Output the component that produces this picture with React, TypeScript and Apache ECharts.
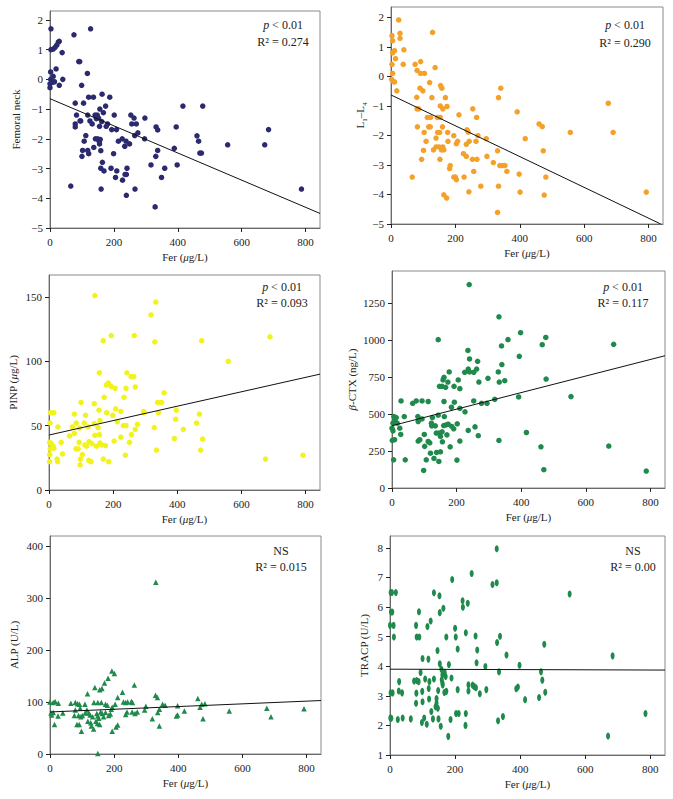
import React, { useEffect, useRef } from "react";
import * as echarts from "echarts";

const FONT = "'Liberation Serif', 'Times New Roman', serif";

// ---- tick labels ----
const ferTicks = [0, 200, 400, 600, 800];
const femoralTicks = [-5, -4, -3, -2, -1, 0, 1, 2];
const lumbarTicks = [-5, -4, -3, -2, -1, 0, 1, 2];
const pinpTicks = [0, 50, 100, 150];
const ctxTicks = [0, 250, 500, 750, 1000, 1250];
const alpTicks = [0, 100, 200, 300, 400];
const tracpTicks = [1, 2, 3, 4, 5, 6, 7, 8];

// ---- data: [Fer, value] ----
const femoralNeck = [
  [3,1.7],[75,1.5],[127,1.7],[3,1.0],[10,1.02],[16,1.08],[21,1.15],[26,1.25],[29,1.28],[38,0.9],[90,0.6],[93,0.6],[2,0.25],[19,0.35],[117,0.2],[10,0.1],[2,0.0],[0,-0.15],[0,-0.28],[8,-0.1],[14,-0.08],[29,-0.2],[40,0.0],[99,-0.2],[163,-0.5],[187,-0.6],[121,-0.6],[136,-0.6],[79,-0.8],[105,-0.8],[174,-0.9],[416,-0.9],[478,-0.9],[83,-1.2],[118,-1.2],[141,-1.2],[148,-1.2],[167,-1.12],[156,-1.0],[201,-1.2],[253,-1.2],[263,-1.3],[297,-1.3],[125,-1.4],[94,-1.4],[96,-1.4],[145,-1.32],[152,-1.3],[132,-1.5],[79,-1.5],[79,-1.6],[162,-1.42],[155,-1.58],[180,-1.5],[176,-1.58],[256,-1.5],[270,-1.5],[332,-1.6],[337,-1.7],[395,-1.6],[193,-1.69],[208,-1.69],[275,-1.8],[265,-1.89],[460,-1.9],[112,-1.89],[142,-2.0],[149,-2.0],[154,-2.08],[157,-2.02],[226,-2.0],[238,-2.08],[296,-2.0],[155,-2.17],[159,-2.4],[214,-2.08],[234,-2.25],[249,-2.17],[465,-2.08],[556,-2.2],[672,-2.2],[684,-1.69],[137,-2.29],[107,-2.08],[102,-2.39],[118,-2.39],[121,-2.5],[100,-2.59],[331,-2.59],[337,-2.39],[389,-2.32],[199,-2.5],[469,-2.48],[474,-2.48],[164,-2.79],[316,-2.88],[398,-2.88],[159,-2.99],[169,-3.08],[191,-2.99],[209,-3.08],[241,-2.99],[359,-2.99],[205,-3.3],[235,-3.2],[239,-3.2],[227,-3.39],[349,-3.3],[65,-3.59],[160,-3.69],[266,-3.69],[787,-3.69],[239,-3.9],[329,-4.29]
];

const lumbar = [
  [24,1.91],[129,1.49],[3,1.38],[5,1.21],[28,1.46],[28,1.29],[40,0.9],[5,0.8],[11,0.87],[14,0.6],[3,0.41],[38,0.41],[75,0.41],[92,0.5],[81,0.2],[92,0.1],[104,0.1],[137,0.3],[5,0.1],[2,-0.1],[8,-0.18],[11,-0.19],[18,-0.49],[120,-0.21],[90,-0.4],[99,-0.49],[154,-0.31],[158,-0.4],[341,-0.4],[334,-0.72],[80,-0.71],[127,-0.72],[169,-0.72],[81,-1.1],[86,-1.1],[153,-1.0],[161,-1.1],[174,-1.02],[254,-1.1],[113,-1.39],[123,-1.39],[144,-1.39],[153,-1.39],[211,-1.3],[266,-1.39],[392,-1.2],[675,-0.91],[82,-1.71],[117,-1.71],[122,-1.71],[160,-1.71],[460,-1.61],[470,-1.7],[103,-1.9],[145,-1.9],[151,-1.9],[176,-1.9],[236,-1.81],[240,-1.89],[270,-2.01],[296,-2.11],[417,-2.11],[557,-1.9],[690,-1.9],[195,-2.01],[109,-2.2],[140,-2.09],[177,-2.2],[207,-2.2],[203,-2.28],[234,-2.3],[243,-2.2],[264,-2.2],[132,-2.49],[140,-2.39],[149,-2.39],[161,-2.39],[157,-2.49],[164,-2.49],[101,-2.51],[225,-2.62],[234,-2.71],[331,-2.52],[473,-2.52],[95,-2.81],[152,-2.81],[253,-2.81],[267,-2.81],[298,-2.71],[318,-2.92],[338,-3.02],[347,-3.02],[354,-3.02],[184,-3.02],[182,-3.12],[360,-3.22],[257,-3.22],[398,-3.31],[195,-3.41],[200,-3.41],[203,-3.5],[66,-3.41],[227,-3.41],[481,-3.41],[279,-3.72],[334,-3.72],[242,-3.91],[401,-3.92],[793,-3.92],[476,-4.02],[164,-4.01],[173,-4.12],[331,-4.61]
];

const pinp = [
  [143,151],[333,146],[318,136],[169,116],[194,120],[266,120],[330,115],[476,116],[559,100],[689,119],[157,91],[243,91],[256,88],[264,88],[185,83],[179,81.5],[194,80.5],[206,79],[172,72],[234,72],[240,79],[269,80],[359,75.5],[339,68],[351,68],[100,68],[141,67],[156,62],[180,60],[208,63],[224,61],[295,61],[296,60],[341,60],[397,62],[5,60],[15,60],[79,59],[114,58],[199,58],[3,52],[28,49],[85,52],[110,52],[95,48],[73,49],[79,44],[122,49],[141,51.5],[159,54],[153,48.5],[213,53],[232,50],[240,50],[276,51],[269,47],[328,48.5],[395,55],[419,47],[460,52],[469,59],[143,42.5],[157,43],[64,42],[257,43],[224,41],[203,38],[251,37],[391,40],[479,39.5],[2,37],[7,36],[13,34],[15,32.5],[4,32],[38,37],[94,37],[125,37.5],[134,36],[112,35],[148,34],[159,36.5],[164,35],[176,34.5],[84,32],[91,32],[117,34],[42,28],[2,27.5],[104,27.5],[238,27],[335,31],[473,31],[25,24],[27,22],[2,22],[98,24],[124,23],[131,22],[169,24],[186,22],[97,19.5],[675,24],[792,27]
];

const betaCtx = [
  [239,1378],[331,1160],[143,1005],[359,1005],[398,1052],[476,1020],[465,971],[686,973],[235,932],[394,892],[240,874],[265,858],[339,962],[236,806],[240,786],[225,784],[253,784],[262,806],[329,786],[340,836],[177,786],[161,750],[158,732],[205,732],[269,718],[297,743],[332,718],[349,727],[477,738],[147,689],[155,689],[166,682],[173,718],[192,689],[210,673],[64,574],[75,590],[28,590],[93,590],[112,586],[161,586],[193,581],[253,590],[277,574],[294,574],[318,601],[392,617],[554,619],[184,547],[210,540],[226,516],[143,493],[162,484],[125,477],[6,484],[13,477],[16,439],[9,462],[3,439],[0,405],[38,484],[80,484],[81,450],[93,468],[122,439],[123,421],[168,428],[174,432],[202,435],[185,417],[191,401],[160,423],[257,414],[24,405],[3,387],[8,327],[1,322],[27,363],[134,421],[137,372],[145,372],[150,349],[155,381],[170,360],[100,363],[81,318],[86,327],[112,315],[117,306],[101,282],[156,313],[180,279],[210,318],[236,390],[267,354],[331,322],[416,376],[461,279],[671,284],[119,236],[138,241],[150,245],[130,200],[145,180],[106,191],[201,189],[5,191],[41,191],[98,119],[470,124],[787,115]
];

const alp = [
  [330,331],[193,160],[201,155],[181,146],[170,137],[140,128],[263,133],[155,124],[162,126],[226,119],[117,116],[211,109],[329,113],[335,109],[461,107],[0,100],[10,99],[16,101],[26,98],[65,98],[79,99],[86,97],[92,96],[109,96],[137,99],[149,99],[160,99],[173,96],[179,94],[203,96],[229,100],[236,99],[242,100],[254,101],[257,99],[299,92],[351,96],[359,94],[398,93],[473,96],[483,97],[3,79],[5,75],[10,80],[25,73],[40,79],[14,57],[79,85],[94,88],[76,74],[89,74],[96,72],[101,74],[84,57],[91,57],[98,44],[110,79],[115,85],[121,79],[125,75],[133,72],[118,63],[127,60],[129,54],[136,48],[146,78],[149,73],[152,69],[158,81],[163,78],[143,63],[148,59],[155,57],[167,72],[173,80],[183,74],[188,77],[191,86],[194,90],[149,1],[194,44],[206,52],[211,56],[236,76],[240,81],[256,81],[265,78],[272,81],[295,85],[319,68],[336,80],[341,86],[341,54],[394,73],[398,75],[419,83],[468,90],[477,68],[559,83],[676,88],[689,72],[792,87]
];

const tracp = [
  [328,7.97],[251,7.13],[191,6.93],[315,6.76],[328,6.82],[552,6.44],[2,6.49],[6,6.49],[18,6.49],[135,6.48],[152,6.38],[223,6.21],[239,6.13],[224,5.99],[164,5.96],[153,5.81],[3,5.83],[7,5.83],[89,5.84],[125,5.53],[0,5.38],[11,5.38],[80,5.38],[115,5.34],[200,5.28],[12,4.99],[82,4.99],[90,4.99],[173,4.99],[202,4.99],[263,5.02],[233,5.13],[338,5.01],[329,4.8],[208,4.58],[268,4.55],[146,4.53],[474,4.74],[358,4.38],[684,4.35],[100,4.26],[118,4.24],[153,4.08],[158,3.9],[181,4.06],[266,4.12],[293,3.99],[398,4.03],[94,3.79],[168,3.79],[335,3.81],[464,3.81],[108,3.57],[135,3.57],[161,3.71],[159,3.54],[161,3.43],[162,3.37],[171,3.65],[189,3.6],[74,3.5],[82,3.52],[88,3.48],[28,3.48],[121,3.48],[468,3.53],[241,3.37],[254,3.36],[259,3.31],[264,3.27],[148,3.18],[173,3.15],[167,3.11],[208,3.21],[241,3.16],[296,3.21],[388,3.24],[393,3.3],[477,3.12],[2,3.1],[8,3.1],[27,3.16],[37,3.1],[81,3.09],[99,3.15],[119,3.25],[100,2.8],[80,2.75],[120,2.89],[143,2.91],[143,2.76],[140,2.63],[147,2.58],[127,2.47],[276,3.07],[415,2.87],[458,2.94],[1,2.25],[4,2.24],[24,2.2],[39,2.25],[64,2.22],[98,2.1],[105,2.25],[113,2.04],[132,2.22],[149,2.22],[156,1.97],[186,2.2],[203,2.4],[211,2.4],[233,2.4],[232,2.0],[332,2.16],[347,2.3],[179,1.63],[670,1.64],[785,2.4]
];

// regression line endpoints [Fer, value]
const femoralFit = [[0, -0.65], [845, -4.51]];
const lumbarFit = [[0, -0.63], [838, -5]];
const pinpFit = [[0, 42.7], [845, 90]];
const ctxFit = [[0, 422], [845, 896]];
const alpFit = [[0, 81], [845, 103]];
const tracpFit = [[0, 3.9], [845, 3.87]];

// statistics text
const statsP = ["p < 0.01", "p < 0.01", "p < 0.01", "p < 0.01", "NS", "NS"];
const statsR2 = ["0.274", "0.290", "0.093", "0.117", "0.015", "0.00"];

const X_MAX = 845;

const panels = [
  { grid: { left: 50, top: 11, width: 270, height: 217 }, data: femoralNeck, fit: femoralFit, ticks: femoralTicks, min: -5, max: 2.3, color: "#2b2a6e", symbol: "circle", size: 5.5, yName: "Femoral neck", yGap: 29, pos: [283, 25, 42] },
  { grid: { left: 391, top: 7, width: 272, height: 217 }, data: lumbar, fit: lumbarFit, ticks: lumbarTicks, min: -5, max: 2.35, color: "#f4a12c", symbol: "circle", size: 5.5, yName: "{n|L}{s|1}{n|–L}{s|4}", yGap: 26, pos: [625, 25, 43] },
  { grid: { left: 49, top: 275, width: 271, height: 215 }, data: pinp, fit: pinpFit, ticks: pinpTicks, min: 0, max: 167, color: "#f2f21e", symbol: "circle", size: 5.5, yName: "PINP ({i|μ}g/L)", yGap: 31, pos: [282, 287, 303] },
  { grid: { left: 392, top: 271, width: 273, height: 217 }, data: betaCtx, fit: ctxFit, ticks: ctxTicks, min: 0, max: 1470, color: "#1f8a4b", symbol: "circle", size: 5.5, yName: "{i|β}-CTX (ng/L)", yGap: 35, pos: [623, 287, 303] },
  { grid: { left: 50, top: 536, width: 271, height: 218 }, data: alp, fit: alpFit, ticks: alpTicks, min: 0, max: 420, color: "#1f8a4b", symbol: "triangle", size: 5.5, yName: "ALP (U/L)", yGap: 31, pos: [281, 551, 567] },
  { grid: { left: 390, top: 536, width: 275, height: 219 }, data: tracp, fit: tracpFit, ticks: tracpTicks, min: 1, max: 8.4, color: "#1f8a4b", symbol: "circle", size: [4, 7], yName: "TRACP (U/L)", yGap: 21, pos: [633, 551, 567] },
];

const rich = {
  n: { fontFamily: FONT, fontSize: 11, color: "#222", lineHeight: 11, verticalAlign: "top" },
  s: { fontFamily: FONT, fontSize: 7, color: "#222", lineHeight: 7, padding: [7, 0, 0, 0], verticalAlign: "top" },
  i: { fontFamily: FONT, fontSize: 11, color: "#222", fontStyle: "italic" },
};

export default function App() {
  const ref = useRef<HTMLDivElement>(null);
  useEffect(() => {
    if (!ref.current) return;
    const chart = echarts.init(ref.current, undefined, { renderer: "svg" });
    const grids: any[] = [];
    const xAxes: any[] = [];
    const yAxes: any[] = [];
    const series: any[] = [];
    const graphics: any[] = [];
    panels.forEach((p, k) => {
      grids.push({ ...p.grid, show: true, borderColor: "#8a8a8a", borderWidth: 1, containLabel: false });
      xAxes.push({
        type: "value", gridIndex: k, min: 0, max: X_MAX,
        name: "Fer ({i|μ}g/L)", nameLocation: "middle", nameGap: 23,
        nameTextStyle: { fontFamily: FONT, fontSize: 11, color: "#222", rich },
        axisLine: { show: true, onZero: false, lineStyle: { color: "#6a6a6a", width: 1 } },
        axisTick: { show: true, length: 4, lineStyle: { color: "#222" }, customValues: ferTicks },
        axisLabel: { fontFamily: FONT, fontSize: 11, color: "#222", margin: 8, customValues: ferTicks },
        splitLine: { show: false },
      });
      yAxes.push({
        type: "value", gridIndex: k, min: p.min, max: p.max,
        name: p.yName, nameLocation: "middle", nameGap: p.yGap,
        nameTextStyle: { fontFamily: FONT, fontSize: 11, color: "#222", rich },
        axisLine: { show: true, onZero: false, lineStyle: { color: "#6a6a6a", width: 1 } },
        axisTick: { show: true, length: 4, lineStyle: { color: "#222" }, customValues: p.ticks },
        axisLabel: {
          fontFamily: FONT, fontSize: 11, color: "#222", margin: 7, customValues: p.ticks,
          formatter: (v: number) => String(v).replace("-", "−"),
        },
        splitLine: { show: false },
      });
      series.push({
        type: "scatter", xAxisIndex: k, yAxisIndex: k, data: p.data,
        symbol: p.symbol, symbolSize: p.size, itemStyle: { color: p.color, opacity: 1 },
        z: 2,
      });
      series.push({
        type: "line", xAxisIndex: k, yAxisIndex: k, data: p.fit,
        symbol: "none", lineStyle: { color: "#111", width: 1 }, z: 3, silent: true,
      });
      const pText = statsP[k] === "NS" ? "NS" : "{i|p}" + statsP[k].slice(1);
      graphics.push({
        type: "text", x: p.pos[0], y: p.pos[1],
        style: { text: pText, align: "center", verticalAlign: "middle", fontFamily: FONT, fontSize: 12, fill: "#222",
          rich: { i: { fontFamily: FONT, fontSize: 12, fontStyle: "italic", fill: "#222" } } },
      });
      graphics.push({
        type: "text", x: p.pos[0], y: p.pos[2],
        style: { text: "R² = " + statsR2[k], align: "center", verticalAlign: "middle", fontFamily: FONT, fontSize: 12, fill: "#222" },
      });
    });
    chart.setOption({
      animation: false,
      backgroundColor: "#fff",
      grid: grids,
      xAxis: xAxes,
      yAxis: yAxes,
      series,
      graphic: graphics,
    });
    return () => chart.dispose();
  }, []);
  return <div ref={ref} style={{ position: "absolute", left: 0, top: 0, width: 673, height: 799 }} />;
}
